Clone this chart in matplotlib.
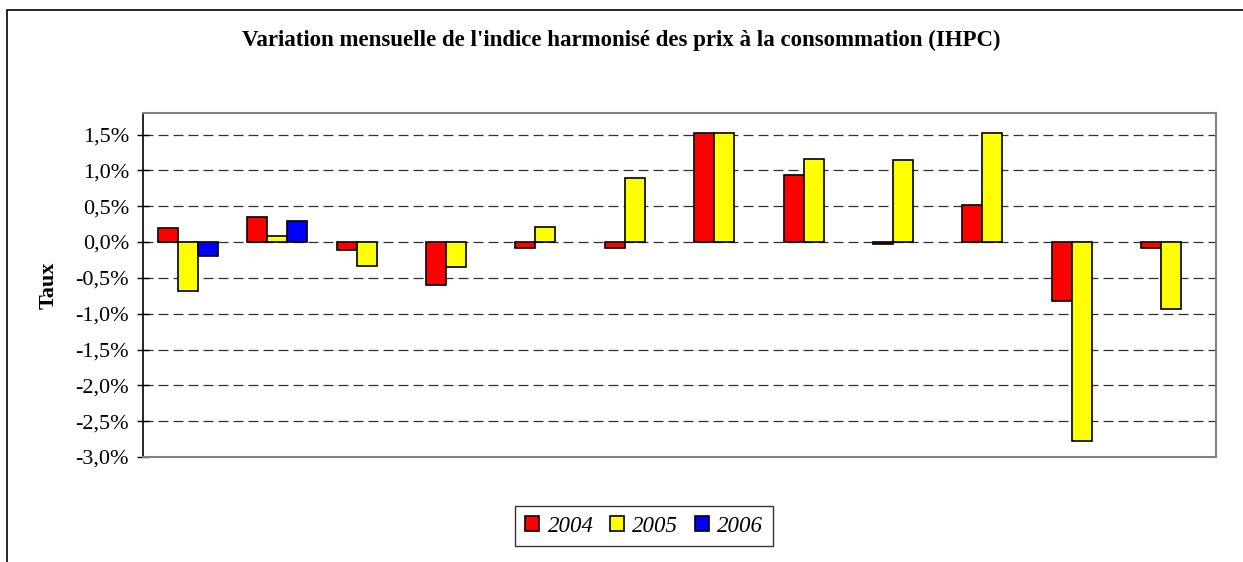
import numpy as np
import matplotlib.pyplot as plt
from matplotlib.patches import Rectangle
from matplotlib.ticker import FuncFormatter, MultipleLocator

# monthly variation of the HICP, in percent (one value per month, NaN = no data yet)
months = list(range(1, 13))
ihpc_2004 = [0.20, 0.35, -0.11, -0.60, -0.085, -0.085, 1.52, 0.94, -0.03, 0.51, -0.82, -0.085]
ihpc_2005 = [-0.69, 0.08, -0.33, -0.355, 0.21, 0.895, 1.52, 1.165, 1.14, 1.52, -2.78, -0.93]
ihpc_2006 = [-0.19, 0.30] + [np.nan] * 10

series = [("2004", ihpc_2004, "#ff0000"),
          ("2005", ihpc_2005, "#ffff00"),
          ("2006", ihpc_2006, "#0000ff")]

plt.rcParams["font.family"] = ["Liberation Serif", "DejaVu Serif"]

fig = plt.figure(figsize=(12.43, 5.62), dpi=100)

# outer chart frame (runs off the right/bottom of the picture)
fig.patches.append(Rectangle((7 / 1243, -0.05), 1.2, 1 - 10 / 562 + 0.05,
                             transform=fig.transFigure, fill=False,
                             edgecolor="black", linewidth=1.2))

ax = fig.add_axes([143 / 1243, 1 - 457 / 562, (1216 - 143) / 1243, (457 - 113) / 562])

x = np.arange(len(months))
w = 0.2237
for i, (name, vals, color) in enumerate(series):
    ax.bar(x + (i - 1) * w, vals, width=w, color=color, edgecolor="black",
           linewidth=1.2, label=name, zorder=3)

ax.set_xlim(-0.5, len(months) - 0.5)
ax.set_ylim(-3.0, 1.8)
ax.yaxis.set_major_locator(MultipleLocator(0.5))
ax.yaxis.set_major_formatter(FuncFormatter(lambda v, p: f"{v:.1f}%".replace(".", ",")))
ax.set_xticks([])
ax.tick_params(axis="y", direction="inout", length=8, width=1, labelsize=16, pad=6)

for v in np.arange(-3.0, 1.51, 0.5):
    if v > -3.0:
        ax.axhline(v, color="#303030", linewidth=0.9, dashes=(8, 4), zorder=1)

for side in ["top", "right", "bottom"]:
    ax.spines[side].set_color("#808080")
    ax.spines[side].set_linewidth(1.5)
ax.spines["left"].set_color("black")
ax.spines["left"].set_linewidth(1.2)

ax.set_ylabel("Taux", fontsize=16, fontweight="bold", labelpad=12)

fig.text(621 / 1243, 1 - 40 / 562,
         "Variation mensuelle de l'indice harmonisé des prix à la consommation (IHPC)",
         ha="center", va="center", fontsize=16.5, fontweight="bold")

leg = fig.legend(loc="center", bbox_to_anchor=(644 / 1243, 1 - 526 / 562), ncol=3,
                 frameon=True, fancybox=False, edgecolor="black",
                 prop={"style": "italic", "size": 16.5},
                 handlelength=0.65, handleheight=0.65, handletextpad=0.35,
                 columnspacing=0.7, borderpad=0.4, borderaxespad=0)
leg.get_frame().set_linewidth(1.0)

fig.savefig("out.png", dpi=100)
